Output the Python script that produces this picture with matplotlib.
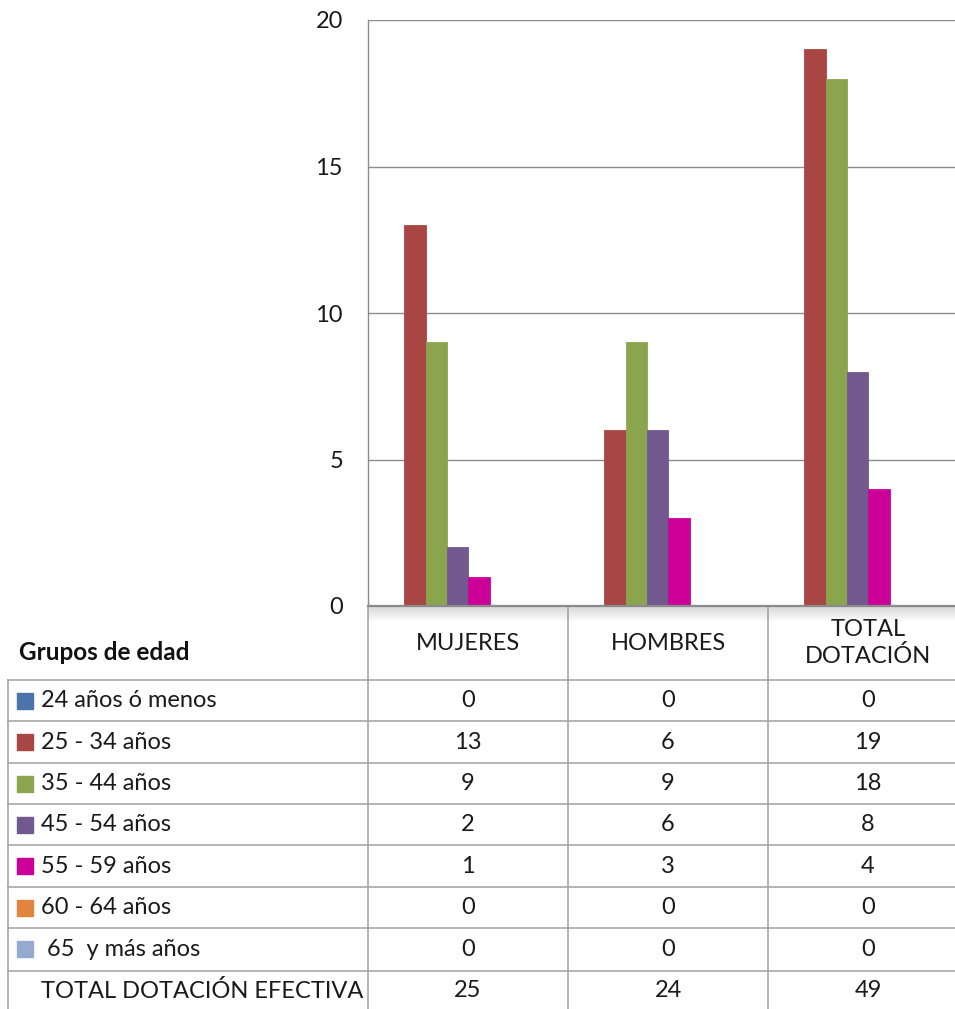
import numpy as np
import matplotlib
matplotlib.use("Agg")
import matplotlib.pyplot as plt

plt.rcParams['font.family'] = ['Lato', 'DejaVu Sans']

categorias = ["MUJERES", "HOMBRES", "TOTAL\nDOTACIÓN"]
grupos = ["24 años ó menos", "25 - 34 años", "35 - 44 años", "45 - 54 años",
          "55 - 59 años", "60 - 64 años", " 65  y más años"]
valores = [
    [0, 0, 0],
    [13, 6, 19],
    [9, 9, 18],
    [2, 6, 8],
    [1, 3, 4],
    [0, 0, 0],
    [0, 0, 0],
]
colores = ["#4A74AA", "#A84644", "#8BA54E", "#71598F", "#CC0099", "#E0843E", "#94AACF"]
fila_total = "TOTAL DOTACIÓN EFECTIVA"
totales = [sum(v[i] for v in valores) for i in range(3)]

W, H = 955, 1009
fig = plt.figure(figsize=(W / 100, H / 100), dpi=100)

# eje principal (en pixeles: x 368-968, y 20-606)
ax_l, ax_r, ax_t, ax_b = 368, 968, 20, 606
ax = fig.add_axes([ax_l / W, 1 - ax_b / H, (ax_r - ax_l) / W, (ax_b - ax_t) / H])

ancho = 0.1065
desplaz = -0.052
x = np.arange(3) + 0.5
for j, (serie, col) in enumerate(zip(valores, colores)):
    ax.bar(x + desplaz + (j - 3) * ancho, serie, width=ancho, color=col,
           edgecolor=col, linewidth=0.6, zorder=3)

ax.set_xlim(0, 3)
ax.set_ylim(0, 20)
ax.set_yticks([0, 5, 10, 15, 20])
ax.set_xticks([])
ax.tick_params(axis="y", length=0, pad=18, labelsize=17, labelcolor="#1a1a1a")
ax.grid(axis="y", color="#8C8C8C", linewidth=1.0, zorder=0)
for s in ["top", "right"]:
    ax.spines[s].set_visible(False)
ax.spines["left"].set_color("#8C8C8C")
ax.spines["left"].set_linewidth(1.0)
ax.spines["bottom"].set_color("#8A8A8A")
ax.spines["bottom"].set_linewidth(1.6)
ax.spines["bottom"].set_zorder(5)

# capa para la tabla de datos en pixeles
ov = fig.add_axes([0, 0, 1, 1], zorder=-1)
ov.set_xlim(0, W)
ov.set_ylim(H, 0)
ov.axis("off")

# sombra del encabezado
grad = np.linspace(0.84, 1.0, 30).reshape(-1, 1)
ov.imshow(np.dstack([grad] * 3), extent=[368, W, 622, 606], aspect="auto", zorder=0)

gris = "#A0A0A0"
filas_y = [680, 721, 763, 804, 845, 887, 928, 971]
for y in filas_y:
    ov.plot([8, W], [y, y], color=gris, linewidth=1.1, zorder=1)
ov.plot([8, 8], [680, H], color=gris, linewidth=1.1)
ov.plot([368, 368], [606, H], color=gris, linewidth=1.1)
for xc in [568, 768]:
    ov.plot([xc, xc], [606, H], color=gris, linewidth=1.1)

fs = 17
ov.text(19, 652, "Grupos de edad", fontsize=17.5, fontweight="bold",
        ha="left", va="center", color="#111111")

col_x = [368 + 200 * (i + 0.5) for i in range(3)]
for cx, cat in zip(col_x, categorias):
    ov.text(cx, 643, cat, fontsize=fs, ha="center", va="center",
            color="#1a1a1a", linespacing=1.25)

alto = 41.4
for r, (g, col, serie) in enumerate(zip(grupos, colores, valores)):
    yc = 680 + alto * (r + 0.5)
    ov.add_patch(plt.Rectangle((17, yc - 8), 16, 16, color=col, zorder=2))
    ov.text(41, yc, g, fontsize=fs, ha="left", va="center", color="#1a1a1a")
    for cx, v in zip(col_x, serie):
        ov.text(cx, yc, str(v), fontsize=fs, ha="center", va="center", color="#1a1a1a")

yc = 680 + alto * 7.5
ov.text(41, yc, fila_total, fontsize=fs, ha="left", va="center", color="#1a1a1a")
for cx, v in zip(col_x, totales):
    ov.text(cx, yc, str(v), fontsize=fs, ha="center", va="center", color="#1a1a1a")

fig.savefig("out.png", dpi=100)
